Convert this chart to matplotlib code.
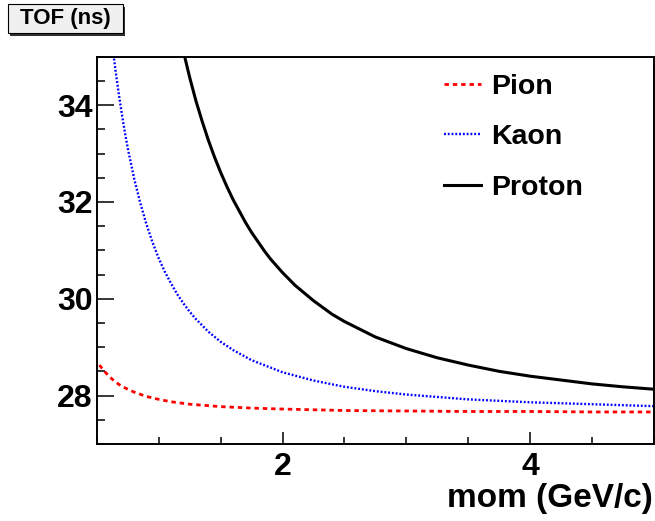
import matplotlib
matplotlib.use("Agg")
import matplotlib.pyplot as plt
from matplotlib.patches import Rectangle
from matplotlib.ticker import MultipleLocator

plt.rcParams['font.family'] = ['Liberation Sans', 'DejaVu Sans']
plt.rcParams['font.weight'] = 'bold'

# momentum (GeV/c) and time of flight (ns)
pion_mom = [0.52, 0.55, 0.6, 0.65, 0.7, 0.75, 0.8, 0.9, 1.0, 1.1, 1.25, 1.5, 1.75, 2.0,
            2.5, 3.0, 3.5, 4.0, 4.5, 5.0]
pion_tof = [28.63, 28.53, 28.39, 28.28, 28.19, 28.13, 28.07, 27.98, 27.92, 27.87, 27.82, 27.77,
            27.74, 27.72, 27.69, 27.68, 27.67, 27.67, 27.66, 27.66]

kaon_mom = [0.62, 0.63, 0.65, 0.675, 0.7, 0.725, 0.75, 0.8, 0.85, 0.9, 0.95, 1.0, 1.05, 1.1,
            1.15, 1.2, 1.25, 1.3, 1.4, 1.5, 1.6, 1.75, 2.0, 2.25, 2.5, 2.75, 3.0, 3.5, 4.0,
            4.5, 5.0]
kaon_tof = [35.35, 35.13, 34.72, 34.26, 33.84, 33.45, 33.10, 32.49, 31.98, 31.54, 31.16, 30.83,
            30.55, 30.31, 30.09, 29.90, 29.73, 29.58, 29.32, 29.11, 28.94, 28.73, 28.48, 28.31,
            28.18, 28.09, 28.02, 27.92, 27.86, 27.82, 27.78]

proton_mom = [1.2, 1.25, 1.3, 1.35, 1.4, 1.45, 1.5, 1.55, 1.6, 1.7, 1.75, 1.85, 1.9, 2.0, 2.1,
              2.25, 2.4, 2.5, 2.75, 3.0, 3.25, 3.5, 3.75, 4.0, 4.25, 4.5, 4.75, 5.0]
proton_tof = [35.10, 34.57, 34.09, 33.67, 33.28, 32.93, 32.61, 32.32, 32.05, 31.58, 31.37,
              31.00, 30.83, 30.54, 30.28, 29.96, 29.68, 29.53, 29.21, 28.97, 28.78, 28.63,
              28.50, 28.40, 28.32, 28.24, 28.18, 28.13]

fig = plt.figure(figsize=(6.55, 5.21), dpi=100)
ax = fig.add_axes([0.148, 0.148, 0.850, 0.743])

ax.plot(pion_mom, pion_tof, color='red', lw=2.0, dashes=(1.6, 1.4), label='Pion')
ax.plot(kaon_mom, kaon_tof, color='blue', lw=1.7, dashes=(0.8, 0.8), label='Kaon')
ax.plot(proton_mom, proton_tof, color='black', lw=2.2, label='Proton')

ax.set_xlim(0.5, 5.0)
ax.set_ylim(27, 35)

ax.xaxis.set_major_locator(MultipleLocator(2))
ax.xaxis.set_minor_locator(MultipleLocator(0.5))
ax.yaxis.set_major_locator(MultipleLocator(2))
ax.yaxis.set_minor_locator(MultipleLocator(0.5))

ax.tick_params(axis='both', which='both', direction='in', top=False, right=False)
ax.tick_params(axis='y', which='major', length=12, width=1.1, labelsize=23, pad=3)
ax.tick_params(axis='y', which='minor', length=6, width=1.1)
ax.tick_params(axis='x', which='major', length=9, width=1.1, labelsize=23, pad=6)
ax.tick_params(axis='x', which='minor', length=5, width=1.1)
for s in ax.spines.values():
    s.set_linewidth(1.4)

ax.legend(loc='upper left', bbox_to_anchor=(0.623, 0.956), frameon=False,
          fontsize=20.5, handlelength=1.3, handletextpad=0.36, labelspacing=0.86,
          borderpad=0, borderaxespad=0)

fig.text(0.997, 0.027, 'mom (GeV/c)', ha='right', va='baseline', fontsize=24, fontweight='bold')

# title box with shadow, ROOT style
fig.patches.append(Rectangle((0.0152, 0.9310), 0.1756, 0.0557, transform=fig.transFigure,
                             facecolor='#303030', edgecolor='none'))
fig.patches.append(Rectangle((0.0122, 0.9367), 0.1756, 0.0557, transform=fig.transFigure,
                             facecolor='#f0f0f0', edgecolor='black', lw=0.8))
fig.text(0.100, 0.9645, 'TOF (ns)', ha='center', va='center', fontsize=16, fontweight='bold')

fig.savefig('out.png', dpi=100)
